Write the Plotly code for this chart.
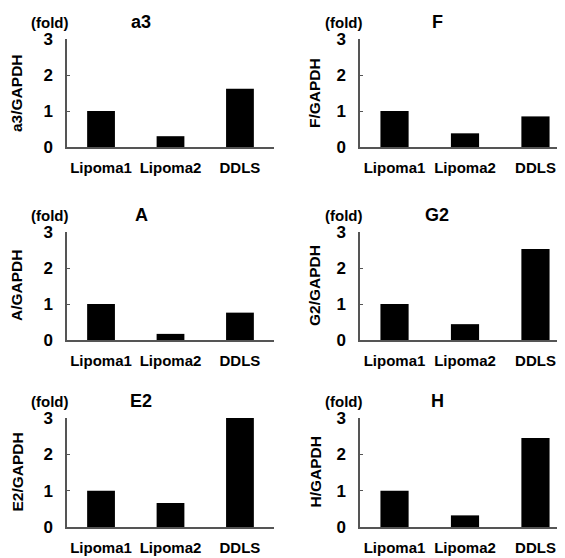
import plotly.graph_objects as go

W, H = 565, 558

categories = ["Lipoma1", "Lipoma2", "DDLS"]
panel_titles = ["a3", "F", "A", "G2", "E2", "H"]
ytitles = ["a3/GAPDH", "F/GAPDH", "A/GAPDH", "G2/GAPDH", "E2/GAPDH", "H/GAPDH"]
vals_a3 = [1.0, 0.30, 1.62]
vals_F = [1.0, 0.38, 0.85]
vals_A = [1.0, 0.17, 0.76]
vals_G2 = [1.0, 0.44, 2.53]
vals_E2 = [1.0, 0.66, 3.0]
vals_H = [1.0, 0.32, 2.45]
yticks = [0, 1, 2, 3]
series = [vals_a3, vals_F, vals_A, vals_G2, vals_E2, vals_H]

FONT = "Liberation Sans, Arial, sans-serif"
AX = "#555555"
OFF = 8  # page body margin of the browser

# pixel layout (left, right) x and (top, bottom) y of each plot area (page pixels)
col_x = [(67, 274), (360, 570)]
row_y = [(39, 147), (232, 340), (418, 527)]


def px(v):
    return (v - OFF) / W


def py(v):
    return 1 - (v - OFF) / H


fig = go.Figure()
annotations = []
for i, vals in enumerate(series):
    r, c = divmod(i, 2)
    xa = "x" if i == 0 else f"x{i+1}"
    ya = "y" if i == 0 else f"y{i+1}"
    fig.add_trace(go.Bar(x=categories, y=vals, xaxis=xa, yaxis=ya,
                         marker=dict(color="black", line=dict(width=0)),
                         width=0.40, showlegend=False))
    x0, x1 = col_x[c]
    t, b = row_y[r]
    xd = [px(x0), min(px(x1), 1.0)]
    yd = [py(b), py(t)]
    xkey = "xaxis" if i == 0 else f"xaxis{i+1}"
    ykey = "yaxis" if i == 0 else f"yaxis{i+1}"
    fig.layout[xkey] = dict(domain=xd, anchor=ya, type="category",
                            range=[-0.49, 2.49], showline=True, linecolor=AX,
                            linewidth=1.5, ticks="", showgrid=False,
                            zeroline=False, ticklabelstandoff=6, tickangle=0,
                            automargin=False,
                            tickfont=dict(family=FONT, size=15, color="black",
                                          weight="bold"))
    fig.layout[ykey] = dict(domain=yd, anchor=xa, range=[0, 3], tickvals=yticks,
                            showline=True, linecolor=AX, linewidth=1.5,
                            ticks="inside", ticklen=3, tickcolor=AX, tickwidth=1,
                            showgrid=False, zeroline=False, ticklabelstandoff=9,
                            automargin=False,
                            tickfont=dict(family=FONT, size=17, color="black",
                                          weight="bold"))
    # header texts
    fold_x = 49 if c == 0 else 343
    title_x = 141 if c == 0 else 437
    head_y = t - 17
    annotations.append(dict(text="(fold)", x=px(fold_x), y=py(head_y),
                            xref="paper", yref="paper", showarrow=False,
                            xanchor="center", yanchor="middle",
                            font=dict(family=FONT, size=15, color="black",
                                      weight="bold")))
    annotations.append(dict(text=panel_titles[i], x=px(title_x), y=py(head_y),
                            xref="paper", yref="paper", showarrow=False,
                            xanchor="center", yanchor="middle",
                            font=dict(family=FONT, size=18, color="black",
                                      weight="bold")))
    yt_x = 17 if c == 0 else 315
    annotations.append(dict(text=ytitles[i], x=px(yt_x), y=py((t + b) / 2),
                            xref="paper", yref="paper", showarrow=False,
                            textangle=-90, xanchor="center", yanchor="middle",
                            font=dict(family=FONT, size=15.5, color="black",
                                      weight="bold")))

fig.update_layout(width=W, height=H, margin=dict(l=0, r=0, t=0, b=0),
                  plot_bgcolor="white", paper_bgcolor="white",
                  annotations=annotations, bargap=0.6,
                  font=dict(family=FONT, size=15, color="black"))
fig.write_html("out.html")
